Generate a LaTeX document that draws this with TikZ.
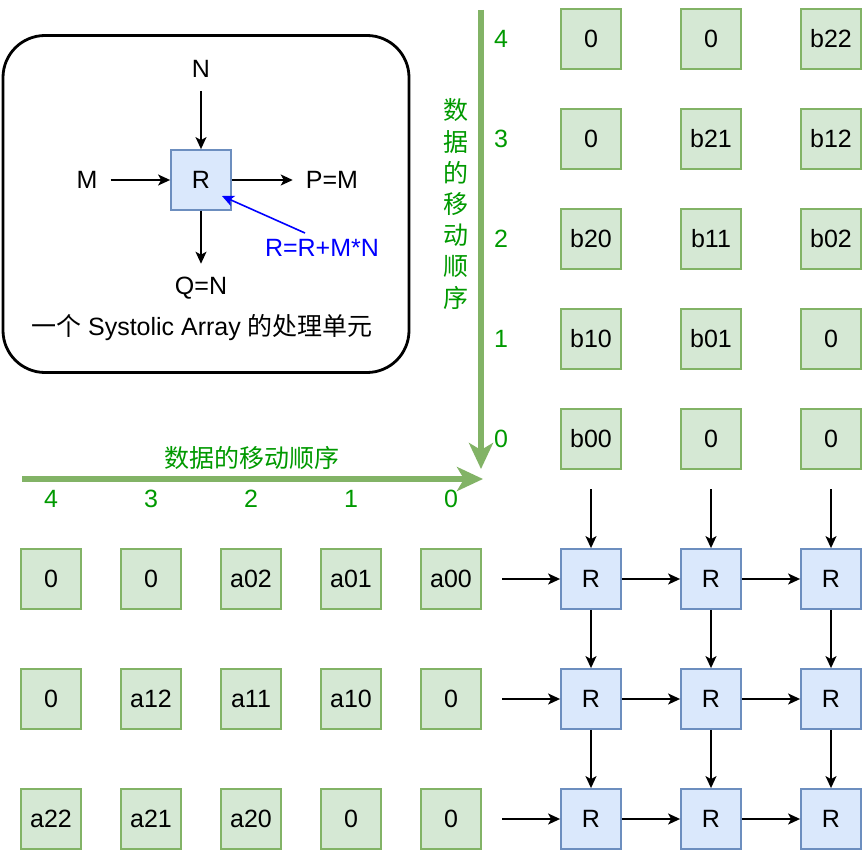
\documentclass[tikz,border=0pt]{standalone}
\usepackage{fontspec}
\setmainfont{Liberation Sans}
\newfontfamily\cjk{Noto Sans CJK SC}
\usetikzlibrary{arrows.meta, positioning}

\definecolor{pefill}{HTML}{DAE8FC}
\definecolor{peline}{HTML}{6C8EBF}
\definecolor{datafill}{HTML}{D5E8D4}
\definecolor{dataline}{HTML}{82B366}
\definecolor{ordertext}{HTML}{009900}
\definecolor{rmncolor}{HTML}{0000FF}

\begin{document}
\begin{tikzpicture}[x=1pt,y=-1pt,
 font=\fontsize{25}{30}\selectfont,
 pe node/.style={rectangle,draw=peline,fill=pefill,line width=1.8pt,minimum size=60pt,inner sep=0pt},
 data node/.style={rectangle,draw=dataline,fill=datafill,line width=1.8pt,minimum size=60pt,inner sep=0pt},
 io label/.style={inner sep=13pt},
 order label/.style={text=ordertext},
 flow/.style={-{Stealth[length=12pt,width=11pt,inset=3pt]},line width=1.6pt},
 order arrow/.style={-{Stealth[length=26pt,width=24pt,inset=7pt]},line width=6pt,draw=dataline}]

  \useasboundingbox (0,0) rectangle (863,851);

  % one processing unit
  \node[draw,line width=2.8pt,rounded corners=42pt,minimum width=406pt,minimum height=337pt] (unit) at (206,204) {};
  \node[pe node] (pe) at (201,180) {R};
  \node[io label] (n) at (201,69) {N};
  \node[io label] (m) at (87,180) {M};
  \node[io label] (p) at (332,180) {P=M};
  \node[io label] (q) at (201,288) {Q=N};
  \node[text=rmncolor] (rmn) at (322,248) {R=R+M*N};
  \node (caption) at (202,328) {{\cjk 一个} Systolic Array {\cjk 的处理单元}};

  \foreach \s/\t in {n/pe, m/pe, pe/p, pe/q} {
   \draw[flow] (\s) -- (\t);}
  \coordinate (rfrom) at (305,233);
  \coordinate (rto) at (222,196);
  \draw[flow,draw=rmncolor] (rfrom) -- (rto);

  % order of the data
  \coordinate (vstart) at (481,10);
  \coordinate (vend) at (481,469);
  \draw[order arrow] (vstart) -- (vend);
  \coordinate (hstart) at (22,479);
  \coordinate (hend) at (483,479);
  \draw[order arrow] (hstart) -- (hend);
  \node[order label,font=\fontsize{25}{31.2}\selectfont\cjk,align=center] (vtitle) at (456,204) {数\\据\\的\\移\\动\\顺\\序};
  \node[order label,font=\fontsize{25}{30}\selectfont\cjk] (htitle) at (252,458) {数据的移动顺序};
  \foreach \n in {0,...,4} {
   \node[order label] (vn\n) at (501,439-100*\n) {\n};
   \node[order label] (hn\n) at (451-100*\n,499) {\n};}

  % matrix B
  \foreach \r/\c/\t in {0/0/0, 0/1/0, 0/2/b22, 1/0/0, 1/1/b21, 1/2/b12, 2/0/b20, 2/1/b11, 2/2/b02, 3/0/b10, 3/1/b01, 3/2/0, 4/0/b00, 4/1/0, 4/2/0} {
   \node[data node] (b\r\c) at (591+120*\c,39+100*\r) {\t};}

  % matrix A
  \foreach \r/\c/\t in {0/0/0, 0/1/0, 0/2/a02, 0/3/a01, 0/4/a00, 1/0/0, 1/1/a12, 1/2/a11, 1/3/a10, 1/4/0, 2/0/a22, 2/1/a21, 2/2/a20, 2/3/0, 2/4/0} {
   \node[data node] (a\r\c) at (51+100*\c,579+120*\r) {\t};}

  % the array
  \foreach \r in {0,1,2}
   \foreach \c in {0,1,2} {
    \node[pe node] (pe\r\c) at (591+120*\c,579+120*\r) {R};}

  \foreach \i in {0,1,2} {
   \coordinate (top\i) at (591+120*\i,489);
   \coordinate (left\i) at (502,579+120*\i);
   \draw[flow] (top\i) -- (pe0\i);
   \draw[flow] (left\i) -- (pe\i0);}
  \foreach \s/\t in {00/01, 01/02, 10/11, 11/12, 20/21, 21/22, 00/10, 10/20, 01/11, 11/21, 02/12, 12/22} {
   \draw[flow] (pe\s) -- (pe\t);}
\end{tikzpicture}
\end{document}
